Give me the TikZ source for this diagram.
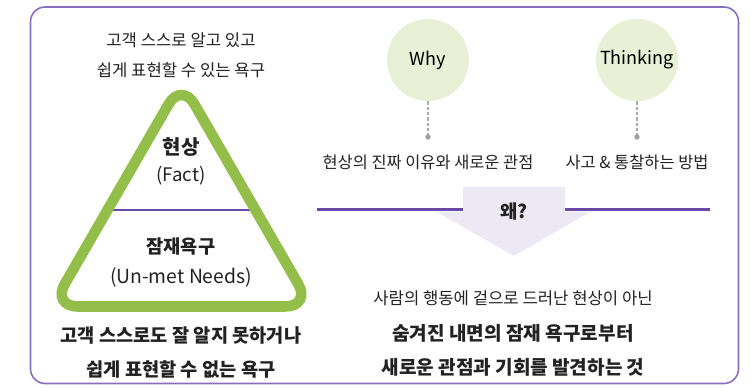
\documentclass[tikz,border=0pt]{standalone}
\usepackage{fontspec}
\setmainfont{Noto Sans CJK KR}
\usepackage{amsmath, amssymb}
\tikzset{every picture/.style={line width=0.75pt}}

\begin{document}
\begin{tikzpicture}[x=0.75pt,y=0.75pt,yscale=-1,xscale=1,
  txt/.style={inner sep=0.75pt, align=center, text={rgb, 255:red, 34; green, 34; blue, 34 }},
  bubble/.style={circle, inner sep=0pt, minimum size=61.5pt, fill={rgb, 255:red, 232; green, 240; blue, 214 }, font=\fontsize{13.5}{16}\selectfont},
  dotline/.style={color={rgb, 255:red, 170; green, 170; blue, 170 }, line width=1pt, dash pattern=on 2.5pt off 1.5pt},
  divider/.style={color={rgb, 255:red, 108; green, 72; blue, 168 }, line width=1.6pt}]
\useasboundingbox (0,0) rectangle (751,388);

%Shape: Rounded Rect [id:frame]
\draw [color={rgb, 255:red, 138; green, 108; blue, 190 }, line width=1.2pt, rounded corners=11pt] (30.5,7) rectangle (738.5,383.5);

%Straight Lines [id:triangle divider]
\draw [divider] (105,210) -- (258,210);
%Shape: Triangle [id:pyramid]
\draw [color={rgb, 255:red, 146; green, 190; blue, 73 }, line width=7.9pt, rounded corners=19.5pt] (181.5,81.8) -- (311.2,306.5) -- (51.8,306.5) -- cycle;

%Straight Lines [id:right divider]
\draw [divider] (317,209.5) -- (710,209.5);
%Shape: Arrow [id:why arrow]
\fill [color={rgb, 255:red, 236; green, 233; blue, 245 }] (463,187) -- (565,187) -- (565,212) -- (590,212) -- (514,256) -- (437,212) -- (463,212) -- cycle;

%Shape: Circle [id:why]
\draw (428,60) node (why) [bubble] {Why};
%Shape: Circle [id:thinking]
\draw (637,60) node (thinking) [bubble] {Thinking};
\coordinate (whydot) at (428,137);
\coordinate (thinkingdot) at (637,137);
%Straight Lines [id:why stem]
\draw [dotline] (why.south) -- (whydot);
\fill [color={rgb, 255:red, 160; green, 160; blue, 160 }] (whydot) circle (2pt);
%Straight Lines [id:thinking stem]
\draw [dotline] (thinking.south) -- (thinkingdot);
\fill [color={rgb, 255:red, 160; green, 160; blue, 160 }] (thinkingdot) circle (2pt);

% Text Node
\draw (181,55) node (known) [txt] [font=\fontsize{12.5}{22.5}\selectfont] {고객 스스로 알고 있고\\쉽게 표현할 수 있는 욕구};
% Text Node
\draw (181,161.5) node (fact) [txt] [font=\fontsize{14}{20}\selectfont] {{\fontsize{15}{20}\selectfont\bfseries 현상}\\(Fact)};
% Text Node
\draw (181,262.5) node (needs) [txt] [font=\fontsize{14.5}{22}\selectfont] {{\fontsize{14}{22}\selectfont\bfseries 잠재욕구}\\(Un-met Needs)};
% Text Node
\draw (181,352.5) node (unknown) [txt] [font=\fontsize{14}{26}\selectfont\bfseries] {고객 스스로도 잘 알지 못하거나\\쉽게 표현할 수 없는 욕구};
% Text Node
\draw (428,162) node (whytext) [txt] [font=\fontsize{12.3}{14}\selectfont] {현상의 진짜 이유와 새로운 관점};
% Text Node
\draw (637,162) node (thinkingtext) [txt] [font=\fontsize{12.3}{14}\selectfont] {사고 \& 통찰하는 방법};
% Text Node
\draw (514,212) node (wae) [txt] [font=\fontsize{14}{16}\selectfont\bfseries] {왜?};
% Text Node
\draw (513,298) node (surface) [txt] [font=\fontsize{12.5}{14}\selectfont] {사람의 행동에 겉으로 드러난 현상이 아닌};
% Text Node
\draw (513,350.5) node (insight) [txt] [font=\fontsize{14.3}{26}\selectfont\bfseries] {숨겨진 내면의 잠재 욕구로부터\\새로운 관점과 기회를 발견하는 것};

\end{tikzpicture}
\end{document}
